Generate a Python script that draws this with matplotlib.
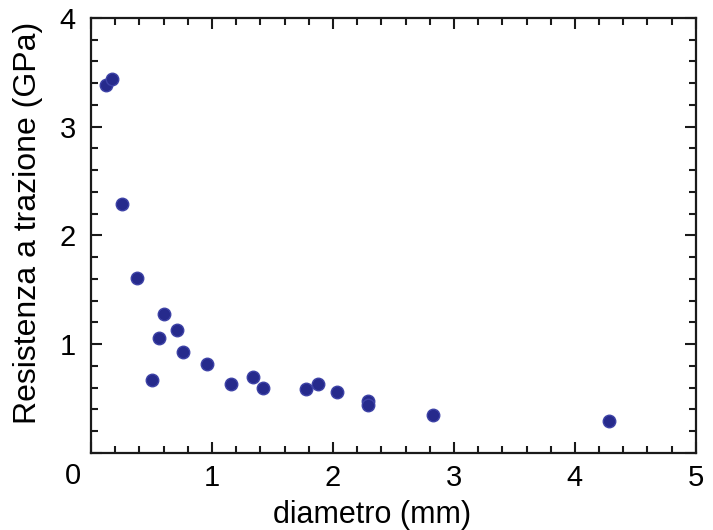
import matplotlib
matplotlib.use("Agg")
import matplotlib.pyplot as plt
from matplotlib.ticker import MultipleLocator

plt.rcParams['font.family'] = ['Liberation Sans', 'DejaVu Sans']

diametro = [0.124, 0.171, 0.257, 0.38, 0.605, 0.56, 0.71, 0.76, 0.505, 0.96,
            1.16, 1.34, 1.42, 1.78, 1.88, 2.03, 2.29, 2.29, 2.83, 4.28]
resistenza = [3.38, 3.44, 2.29, 1.61, 1.28, 1.06, 1.13, 0.93, 0.67, 0.82,
              0.63, 0.70, 0.60, 0.59, 0.63, 0.56, 0.475, 0.445, 0.35, 0.29]
xticks = [0, 1, 2, 3, 4, 5]
xticklabels = ['', '1', '2', '3', '4', '5']
yticks = [0, 1, 2, 3, 4]
yticklabels = ['', '1', '2', '3', '4']

fig = plt.figure(figsize=(7.13, 5.30), dpi=100)
ax = fig.add_axes([0.1276, 0.1453, 0.8484, 0.8208])

ax.plot(diametro, resistenza, 'o', color='#262a8c', markersize=9,
        markeredgecolor='#3d42a6', markeredgewidth=1.0, clip_on=False)

ax.set_xlim(0, 5)
ax.set_ylim(0, 4)
ax.set_xticks(xticks)
ax.set_xticklabels(xticklabels)
ax.set_yticks(yticks)
ax.set_yticklabels(yticklabels)
ax.xaxis.set_minor_locator(MultipleLocator(0.2))
ax.yaxis.set_minor_locator(MultipleLocator(0.2))

ax.tick_params(which='both', direction='in', top=True, right=True,
               width=1.5, colors='#1a1a1a', labelcolor='black')
ax.tick_params(which='major', length=8, labelsize=21)
ax.tick_params(which='minor', length=5)
ax.tick_params(axis='x', which='major', pad=8)
ax.tick_params(axis='y', which='major', pad=11)

for s in ax.spines.values():
    s.set_linewidth(1.6)
    s.set_color('#1a1a1a')

ax.text(-0.15, -0.021, '0', transform=ax.get_xaxis_transform(), fontsize=21,
        ha='center', va='top')

ax.set_xlabel('diametro (mm)', fontsize=22)
ax.set_ylabel('Resistenza a trazione (GPa)', fontsize=23)
ax.xaxis.set_label_coords(0.464, -0.108)
ax.yaxis.set_label_coords(-0.08, 0.529)

fig.savefig('out.png', dpi=100)
